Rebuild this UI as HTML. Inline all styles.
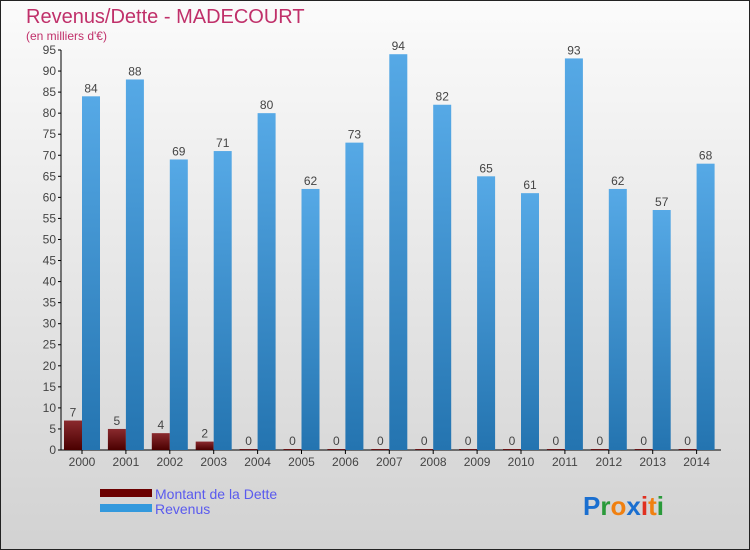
<!DOCTYPE html>
<html><head><meta charset="utf-8"><style>
body{margin:0;}
svg{display:block;font-family:"Liberation Sans",sans-serif;}
</style></head><body>
<svg id="chart" width="750" height="550" viewBox="0 0 750 550">
<defs>
<linearGradient id="bg" x1="0" y1="0" x2="0" y2="1"><stop offset="0" stop-color="#fbfbfb"/><stop offset="1" stop-color="#d2d2d2"/></linearGradient>
<linearGradient id="rev" x1="0" y1="0" x2="0" y2="1"><stop offset="0" stop-color="#56a9e6"/><stop offset="1" stop-color="#2474b0"/></linearGradient>
<linearGradient id="det" x1="0" y1="0" x2="0" y2="1"><stop offset="0" stop-color="#8a2a2e"/><stop offset="1" stop-color="#4a0000"/></linearGradient>
</defs>
<rect x="0.5" y="0.5" width="749" height="549" fill="url(#bg)" stroke="#222"/>
<text x="26" y="23" font-size="20" fill="#c0306a">Revenus/Dette - MADECOURT</text>
<text x="26" y="40" font-size="12" fill="#c0306a">(en milliers d'€)</text>
<g id="plot"></g>
<g>
<rect x="100" y="489" width="52" height="8" fill="#6b0000"/>
<text x="155" y="499" font-size="14" fill="#5a5aee">Montant de la Dette</text>
<rect x="100" y="504" width="52" height="8" fill="#3399dd"/>
<text x="155" y="514" font-size="14" fill="#5a5aee">Revenus</text>
</g>
<g font-size="26" font-weight="bold">
<text x="583" y="515"><tspan fill="#1a6fd0">P</tspan><tspan fill="#2a9a3a">r</tspan><tspan fill="#f08010">o</tspan><tspan fill="#1a6fd0">x</tspan><tspan fill="#e03020">i</tspan><tspan fill="#f08010">t</tspan><tspan fill="#2a9a3a">i</tspan></text>
</g>
</svg>
<script>
const years=["2000","2001","2002","2003","2004","2005","2006","2007","2008","2009","2010","2011","2012","2013","2014"];
const dette=[7,5,4,2,0,0,0,0,0,0,0,0,0,0,0];
const revenus=[84,88,69,71,80,62,73,94,82,65,61,93,62,57,68];
const yTicks=[0,5,10,15,20,25,30,35,40,45,50,55,60,65,70,75,80,85,90,95];
const NS="http://www.w3.org/2000/svg";
const g=document.getElementById("plot");
const y0=450,pxPer=400/95,x0=82,step=43.9,bw=18;
const yS=v=>y0-v*pxPer;
const xS=i=>x0+i*step;
function mk(t,a,p){const e=document.createElementNS(NS,t);for(const k in a)e.setAttribute(k,a[k]);(p||g).appendChild(e);return e;}
const yAxis=mk("line",{x1:61,y1:50,x2:61,y2:450,stroke:"#000"});


const xAxis=mk("line",{x1:61,y1:450,x2:721,y2:450,stroke:"#000"});


yTicks.forEach(v=>{
  const tk=mk("line",{x1:58,x2:61,y1:yS(v),y2:yS(v),stroke:"#000"});
  
  
  const t=mk("text",{x:56,y:yS(v)+4,"font-size":12,"text-anchor":"end",fill:"#444"});
  t.textContent=v;
  
  
});
years.forEach((yr,i)=>{
  const cx=xS(i);
  const tk=mk("line",{x1:cx,x2:cx,y1:450,y2:454,stroke:"#000"});
  
  
  const xl=mk("text",{x:cx,y:466,"font-size":12,"text-anchor":"middle",fill:"#444"});
  xl.textContent=yr;
  
  
  const dh=Math.max(dette[i]*pxPer,1);
  const db=mk("rect",{x:cx-bw,y:y0-dh,width:bw,height:dh,fill:"url(#det)"});
  
  
  const dl=mk("text",{x:cx-bw/2,y:y0-dh-4,"font-size":12,"text-anchor":"middle",fill:"#444"});
  dl.textContent=dette[i];
  
  
  const rb=mk("rect",{x:cx,y:yS(revenus[i]),width:bw,height:revenus[i]*pxPer,fill:"url(#rev)"});
  
  
  const rl=mk("text",{x:cx+bw/2,y:yS(revenus[i])-4,"font-size":12,"text-anchor":"middle",fill:"#444"});
  rl.textContent=revenus[i];
  
  
});
</script>
</body></html>
